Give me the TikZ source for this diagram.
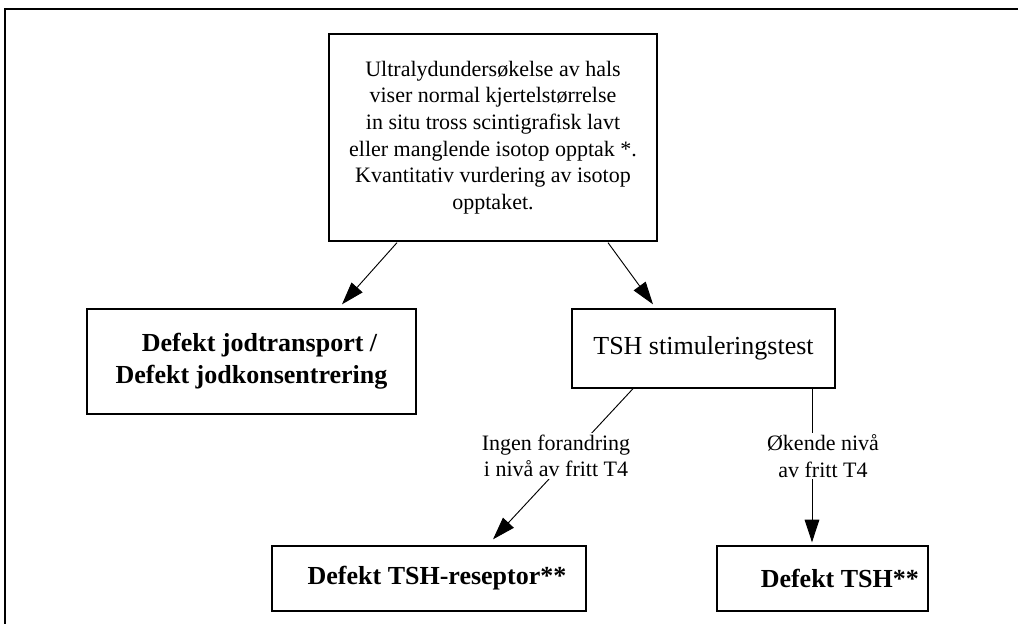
\documentclass[tikz,border=0pt]{standalone}
\usepackage{fontspec}
\setmainfont{Liberation Serif}
\usetikzlibrary{arrows.meta,calc}
\newcommand{\tx}{\fontsize{16.5}{20}\selectfont}
\newcommand{\tl}{\fontsize{19.5}{24}\selectfont}
\newcommand{\bx}{\fontsize{19.5}{24}\selectfont\bfseries}

\begin{document}
\begin{tikzpicture}[x=0.75pt,y=-0.75pt,
  box/.style={draw,line width=1pt,align=center,inner sep=0pt},
  conn/.style={line width=0.7pt,-{Triangle[length=17pt,width=11pt]}},
  lbl/.style={fill=white,align=center,inner sep=1pt,font=\tx}]
\useasboundingbox (0,0) rectangle (1018,624);
\draw[line width=1pt] (1018,9) -- (5,9) -- (5,624);
\node[box,minimum width=246pt,minimum height=155.25pt,font=\tx] (ultra) at (493,137.5)
  {Ultralydundersøkelse av hals\\ viser normal kjertelstørrelse\\ in situ tross scintigrafisk lavt\\
   eller manglende isotop opptak *.\\ Kvantitativ vurdering av isotop\\ opptaket.};
\node[box,minimum width=246.75pt,minimum height=78.75pt,font=\bx] (jod) at (251.5,361.5)
  {\hspace*{12pt}Defekt jodtransport /\\ Defekt jodkonsentrering};
\node[box,minimum width=197.25pt,minimum height=59.25pt,font=\tl] (stim) at (703.5,348.5)
  {TSH stimuleringstest};
\node[box,minimum width=235.5pt,minimum height=48.75pt,font=\bx] (resep) at (429,578.5)
  {\hspace*{12pt}Defekt TSH-reseptor**};
\node[box,minimum width=158.25pt,minimum height=48.75pt,font=\bx] (tsh) at (822.5,578.5)
  {\hspace*{26pt}Defekt TSH**};
\draw[conn] ($(ultra.south)+(-96,1)$) -- ($(jod.north)+(90.5,-4)$);
\draw[conn] ($(ultra.south)+(115,1)$) -- ($(stim.north)+(-50.5,-4)$);
\draw[conn] ($(stim.south)+(-70.5,0)$) -- ($(resep.north)+(64,-6)$);
\draw[conn] ($(stim.south)+(108.5,0)$) -- ($(tsh.north)+(-10.5,-3)$);
\node[lbl] (ingen) at (556,456) {Ingen forandring\\ i nivå av fritt T4};
\node[lbl] (okende) at (823,456) {Økende nivå\\ av fritt T4};
\end{tikzpicture}
\end{document}
